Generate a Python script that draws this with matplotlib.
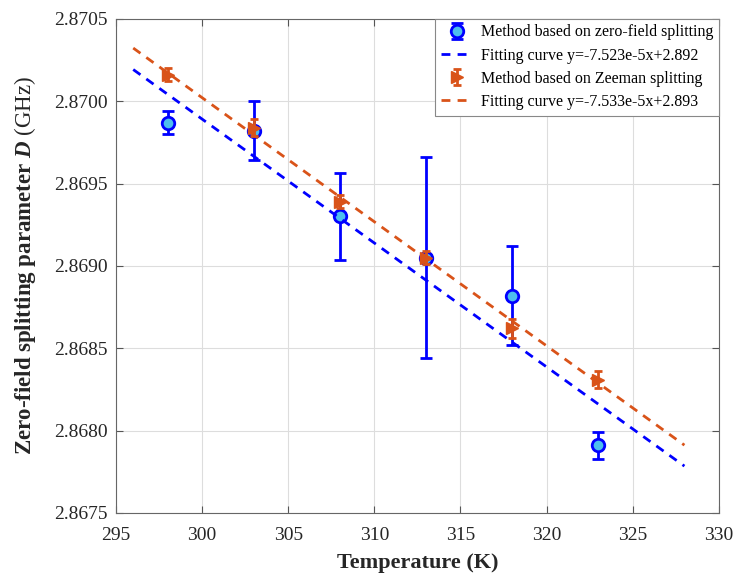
import numpy as np
import matplotlib
matplotlib.use("Agg")
import matplotlib.pyplot as plt

plt.rcParams['font.family'] = ['Liberation Serif', 'DejaVu Serif']
plt.rcParams['mathtext.fontset'] = 'custom'
plt.rcParams['mathtext.rm'] = 'Liberation Serif'
plt.rcParams['mathtext.it'] = 'Liberation Serif:italic'
plt.rcParams['mathtext.bf'] = 'Liberation Serif:bold'
plt.rcParams['mathtext.bfit'] = 'Liberation Serif:bold:italic'

# data
temps = [298, 303, 308, 313, 318, 323]
d_zfs = [2.86987, 2.86982, 2.86930, 2.86905, 2.86882, 2.86791]
err_zfs = [0.00007, 0.00018, 0.000265, 0.00061, 0.00030, 0.00008]
d_zeeman = [2.87016, 2.86984, 2.86939, 2.86905, 2.86862, 2.86831]
err_zeeman = [0.00004, 0.00005, 0.00004, 0.00004, 0.00006, 0.00005]

# linear fits (slope, intercept) and range they are drawn over
fit_zfs = (-7.523e-5, 2.89246)
fit_zeeman = (-7.533e-5, 2.89262)
fit_range = [296, 328]

blue = '#0000FF'
light_blue = '#4DBEEE'
orange = '#D95319'

fig = plt.figure(figsize=(7.37, 5.78), dpi=100)
ax = fig.add_axes([0.1574, 0.1125, 0.818, 0.855])

xf = np.array(fit_range)

h1 = ax.errorbar(temps, d_zfs, yerr=err_zfs, fmt='o', color=blue, ecolor=blue,
                 mfc=light_blue, mec=blue, ms=9, mew=2, elinewidth=2,
                 capsize=4, capthick=2, zorder=3)
h2, = ax.plot(xf, fit_zfs[0] * xf + fit_zfs[1], color=blue, lw=2,
              ls=(0, (3.2, 2.6)), zorder=4)
h3 = ax.errorbar(temps, d_zeeman, yerr=err_zeeman, fmt='>', color=orange,
                 ecolor=orange, mfc=orange, mec=orange, ms=8.5, elinewidth=2,
                 capsize=3, capthick=2, zorder=5)
h4, = ax.plot(xf, fit_zeeman[0] * xf + fit_zeeman[1], color=orange, lw=2,
              ls=(0, (3.2, 2.6)), zorder=6)

ax.set_xlim(295, 330)
ax.set_ylim(2.8675, 2.8705)
ax.set_xticks(np.arange(295, 331, 5))
ax.set_yticks(np.arange(2.8675, 2.87051, 0.0005))
ax.yaxis.set_major_formatter(plt.FormatStrFormatter('%.4f'))
ax.tick_params(direction='in', top=True, right=True, labelsize=14,
               colors='#555555', labelcolor='#262626', length=5)
ax.tick_params(axis='x', pad=10)
ax.tick_params(axis='y', pad=6)
for s in ax.spines.values():
    s.set_color('#666666')
    s.set_linewidth(0.8)
ax.grid(True, color='#dddddd', lw=0.8)
ax.set_axisbelow(True)

ax.set_xlabel('Temperature (K)', fontsize=16, fontweight='bold', color='#262626')
ax.set_ylabel(r'$\mathbf{Zero}$-$\mathbf{field\ splitting\ parameter}$ '
              r'$\mathbfit{D}$ (GHz)', fontsize=16.5, color='#262626')
ax.xaxis.set_label_coords(0.5, -0.08)
ax.yaxis.set_label_coords(-0.13, 0.5)

leg = ax.legend([h1, h2, h3, h4],
                ['Method based on zero-field splitting',
                 'Fitting curve y=-7.523e-5x+2.892',
                 'Method based on Zeeman splitting',
                 'Fitting curve y=-7.533e-5x+2.893'],
                loc='upper right', borderaxespad=0, fontsize=11.5,
                labelspacing=0.45, handlelength=2.0, handletextpad=0.5,
                fancybox=False, framealpha=1, edgecolor='#888888',
                borderpad=0.35)
leg.get_frame().set_linewidth(0.8)

fig.savefig('out.png', dpi=100)
